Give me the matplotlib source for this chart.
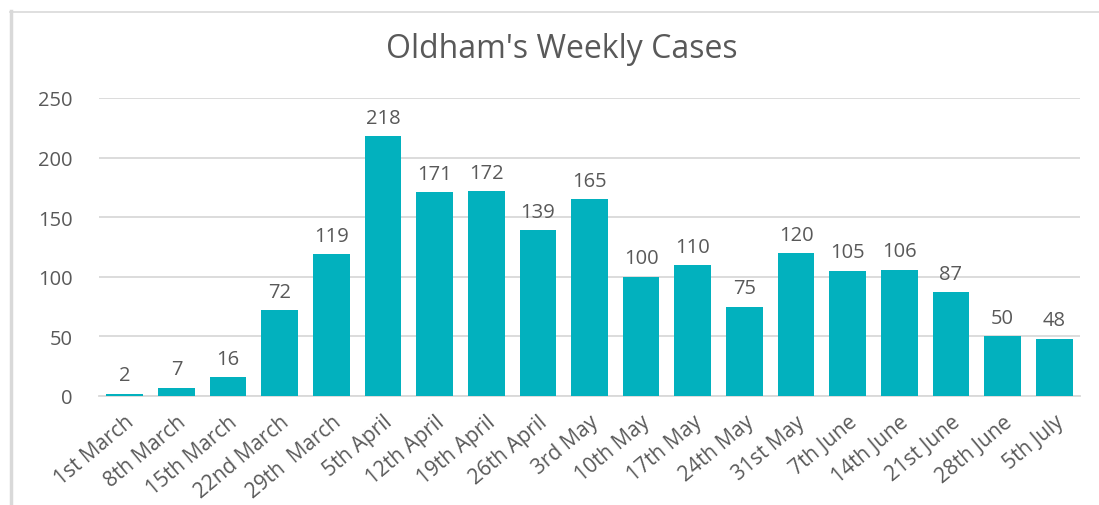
import matplotlib
matplotlib.use('Agg')
import matplotlib.pyplot as plt
from matplotlib.lines import Line2D

weeks = ['1st March', '8th March', '15th March', '22nd March', '29th  March',
         '5th April', '12th April', '19th April', '26th April', '3rd May',
         '10th May', '17th May', '24th May', '31st May', '7th June',
         '14th June', '21st June', '28th June', '5th July']
cases = [2, 7, 16, 72, 119, 218, 171, 172, 139, 165,
         100, 110, 75, 120, 105, 106, 87, 50, 48]
y_ticks = [0, 50, 100, 150, 200, 250]

bar_colour = '#02B1BE'
text_grey = '#595959'
grid_grey = '#D9D9D9'

plt.rcParams['font.family'] = ['Open Sans', 'DejaVu Sans']

fig = plt.figure(figsize=(10.99, 5.06), dpi=100)
ax = fig.add_axes([99 / 1099, 1 - 397 / 506, (1080 - 99) / 1099, (397 - 99) / 506])

x = range(len(weeks))
bars = ax.bar(x, cases, width=0.71, color=bar_colour, zorder=3)

for b, v in zip(bars, cases):
    ax.text(b.get_x() + b.get_width() / 2, v + 7, str(v), ha='center', va='bottom',
            fontsize=14.5, color=text_grey)

ax.set_xlim(-0.5, len(weeks) - 0.5)
ax.set_ylim(0, 250)
ax.set_yticks(y_ticks)
ax.set_yticklabels([str(t) for t in y_ticks], fontsize=14.5, color=text_grey)
ax.set_xticks(list(x))
ax.set_xticklabels(weeks, rotation=40, ha='right', rotation_mode='anchor',
                   fontsize=15, color=text_grey)
ax.tick_params(axis='both', length=0)
ax.tick_params(axis='y', pad=19)
ax.tick_params(axis='x', pad=11)

ax.grid(axis='y', color=grid_grey, linewidth=1.3, zorder=0)
for s in ['top', 'right', 'left']:
    ax.spines[s].set_visible(False)
ax.spines['bottom'].set_color(grid_grey)
ax.spines['bottom'].set_linewidth(1.3)

fig.text(562 / 1099, 1 - 50 / 506, "Oldham's Weekly Cases", fontsize=23,
         color=text_grey, ha='center', va='center')

# outer chart frame (left and top edges visible)
fig.add_artist(Line2D([11 / 1099, 11 / 1099], [0, 1 - 12 / 506], color=grid_grey, linewidth=2.5))
fig.add_artist(Line2D([10 / 1099, 1], [1 - 12.5 / 506, 1 - 12.5 / 506], color=grid_grey, linewidth=1.2))

fig.savefig('out.png', dpi=100, facecolor='white')
